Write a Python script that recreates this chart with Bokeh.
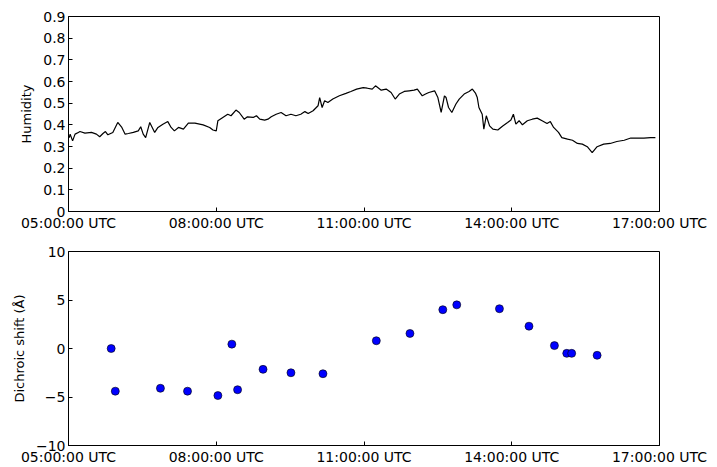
import pandas as pd
from bokeh.plotting import figure
from bokeh.layouts import column
from bokeh.models import FixedTicker, DatetimeTickFormatter, Range1d
from bokeh.embed import file_html
from bokeh.resources import INLINE

DAY = "2013-06-01 "

hum_time = [
    "05:00", "05:01", "05:02", "05:05", "05:08", "05:12", "05:14", "05:20", "05:28", "05:34",
    "05:38", "05:42", "05:45", "05:48", "05:54", "06:00", "06:05", "06:09", "06:13", "06:19",
    "06:25", "06:28", "06:31", "06:34", "06:39", "06:42", "06:45", "06:49", "06:55", "07:01",
    "07:05", "07:09", "07:14", "07:20", "07:26", "07:34", "07:44", "07:52", "07:56", "08:00",
    "08:02", "08:08", "08:14", "08:18", "08:24", "08:28", "08:34", "08:38", "08:45", "08:49",
    "08:53", "08:59", "09:03", "09:07", "09:13", "09:19", "09:25", "09:31", "09:37", "09:43",
    "09:48", "09:52", "09:58", "10:04", "10:06", "10:09", "10:12", "10:16", "10:22", "10:30",
    "10:38", "10:44", "10:51", "10:59", "11:04", "11:10", "11:14", "11:21", "11:27", "11:33",
    "11:38", "11:43", "11:49", "11:55", "12:01", "12:05", "12:11", "12:15", "12:19", "12:26",
    "12:30", "12:34", "12:38", "12:40", "12:43", "12:47", "12:52", "12:56", "13:02", "13:08",
    "13:12", "13:16", "13:18", "13:20", "13:24", "13:26", "13:29", "13:33", "13:37", "13:43",
    "13:49", "13:55", "13:59", "14:02", "14:05", "14:09", "14:13", "14:19", "14:25", "14:31",
    "14:37", "14:43", "14:47", "14:51", "14:57", "15:01", "15:08", "15:14", "15:20", "15:26",
    "15:32", "15:38", "15:44", "15:52", "16:00", "16:08", "16:17", "16:25", "16:33", "16:41",
    "16:49", "16:55",
]
hum_value = [
    0.350, 0.341, 0.357, 0.326, 0.357, 0.365, 0.369, 0.362, 0.365, 0.357,
    0.345, 0.360, 0.369, 0.354, 0.365, 0.411, 0.388, 0.357, 0.360, 0.365,
    0.372, 0.391, 0.357, 0.341, 0.411, 0.388, 0.365, 0.388, 0.403, 0.415,
    0.388, 0.372, 0.388, 0.380, 0.408, 0.408, 0.400, 0.388, 0.376, 0.372,
    0.419, 0.434, 0.449, 0.442, 0.468, 0.457, 0.426, 0.437, 0.434, 0.442,
    0.426, 0.422, 0.426, 0.437, 0.449, 0.457, 0.442, 0.449, 0.442, 0.449,
    0.461, 0.452, 0.465, 0.488, 0.526, 0.480, 0.511, 0.503, 0.519, 0.534,
    0.545, 0.554, 0.565, 0.572, 0.569, 0.565, 0.580, 0.560, 0.565, 0.549,
    0.519, 0.542, 0.554, 0.557, 0.560, 0.565, 0.534, 0.542, 0.549, 0.557,
    0.526, 0.457, 0.534, 0.526, 0.480, 0.457, 0.496, 0.519, 0.542, 0.554,
    0.565, 0.545, 0.526, 0.480, 0.449, 0.380, 0.442, 0.395, 0.380, 0.376,
    0.395, 0.411, 0.422, 0.449, 0.403, 0.419, 0.400, 0.419, 0.426, 0.431,
    0.419, 0.406, 0.415, 0.388, 0.365, 0.341, 0.334, 0.329, 0.314, 0.311,
    0.299, 0.272, 0.299, 0.311, 0.314, 0.323, 0.329, 0.339, 0.339, 0.339,
    0.341, 0.341,
]

shift_time = [
    "05:52", "05:57", "06:52", "07:25", "08:02", "08:19", "08:26", "08:57", "09:31", "10:10",
    "11:15", "11:56", "12:36", "12:53", "13:45", "14:21", "14:52", "15:07", "15:13", "15:44",
]
shift_value = [
    0.0, -4.4, -4.1, -4.4, -4.85, 0.45, -4.25, -2.15, -2.5, -2.6,
    0.8, 1.55, 4.0, 4.5, 4.1, 2.3, 0.3, -0.5, -0.5, -0.7,
]

x_tick_times = ["05:00", "08:00", "11:00", "14:00", "17:00"]
hum_ticks = [0.0, 0.1, 0.2, 0.3, 0.4, 0.5, 0.6, 0.7, 0.8, 0.9]
shift_ticks = [-10, -5, 0, 5, 10]


def ts(lst):
    return pd.to_datetime([DAY + t for t in lst])


EPOCH = pd.Timestamp("1970-01-01")


def ms(t):
    return (t - EPOCH) / pd.Timedelta(milliseconds=1)


xt = ts(x_tick_times)
x_ticks_ms = [ms(t) for t in xt]
fmt_str = "%H:%M:%S UTC"
FONT = "DejaVu Sans"


def style(p, yticks, ylabel, label_size):
    p.xaxis.ticker = FixedTicker(ticks=x_ticks_ms)
    p.xaxis.formatter = DatetimeTickFormatter(
        hours=fmt_str, hourmin=fmt_str, minutes=fmt_str, minsec=fmt_str,
        seconds=fmt_str, days=fmt_str, context=None)
    p.yaxis.ticker = FixedTicker(ticks=yticks)
    p.yaxis.axis_label = ylabel
    for ax in (p.xaxis, p.yaxis):
        ax.major_tick_in = 4
        ax.major_tick_out = 0
        ax.minor_tick_line_color = None
        ax.major_label_text_font = FONT
        ax.major_label_text_font_size = "14px"
        ax.major_label_text_color = "black"
        ax.axis_line_color = "black"
        ax.major_tick_line_color = "black"
        ax.major_label_standoff = 3
    p.yaxis.axis_label_text_font = FONT
    p.yaxis.axis_label_text_font_size = label_size
    p.yaxis.axis_label_text_font_style = "normal"
    p.yaxis.axis_label_text_color = "black"
    p.yaxis.axis_label_standoff = 6
    p.xgrid.grid_line_color = None
    p.ygrid.grid_line_color = None
    p.outline_line_color = "black"
    p.outline_line_width = 1
    p.background_fill_color = "white"
    p.border_fill_color = "white"


W = 717
top = figure(width=W, height=235, output_backend="svg", toolbar_location=None,
             x_axis_type="datetime",
             x_range=Range1d(xt[0], xt[-1]), y_range=Range1d(0.0, 0.9),
             min_border_left=68, min_border_right=58, min_border_top=16,
             min_border_bottom=24)
top.line(ts(hum_time), hum_value, line_color="black", line_width=1.2)
style(top, hum_ticks, "Humidity", "13px")

bot = figure(width=W, height=232, output_backend="svg", toolbar_location=None,
             x_axis_type="datetime",
             x_range=Range1d(xt[0], xt[-1]), y_range=Range1d(-10, 10),
             min_border_left=68, min_border_right=58, min_border_top=16,
             min_border_bottom=21)
bot.scatter(ts(shift_time), shift_value, size=8, fill_color="#0000ff",
            line_color="black", line_width=0.6)
style(bot, shift_ticks, "Dichroic shift (Å)", "13px")

layout = column(top, bot, spacing=0)
open("out.html", "w").write(file_html(layout, INLINE))
